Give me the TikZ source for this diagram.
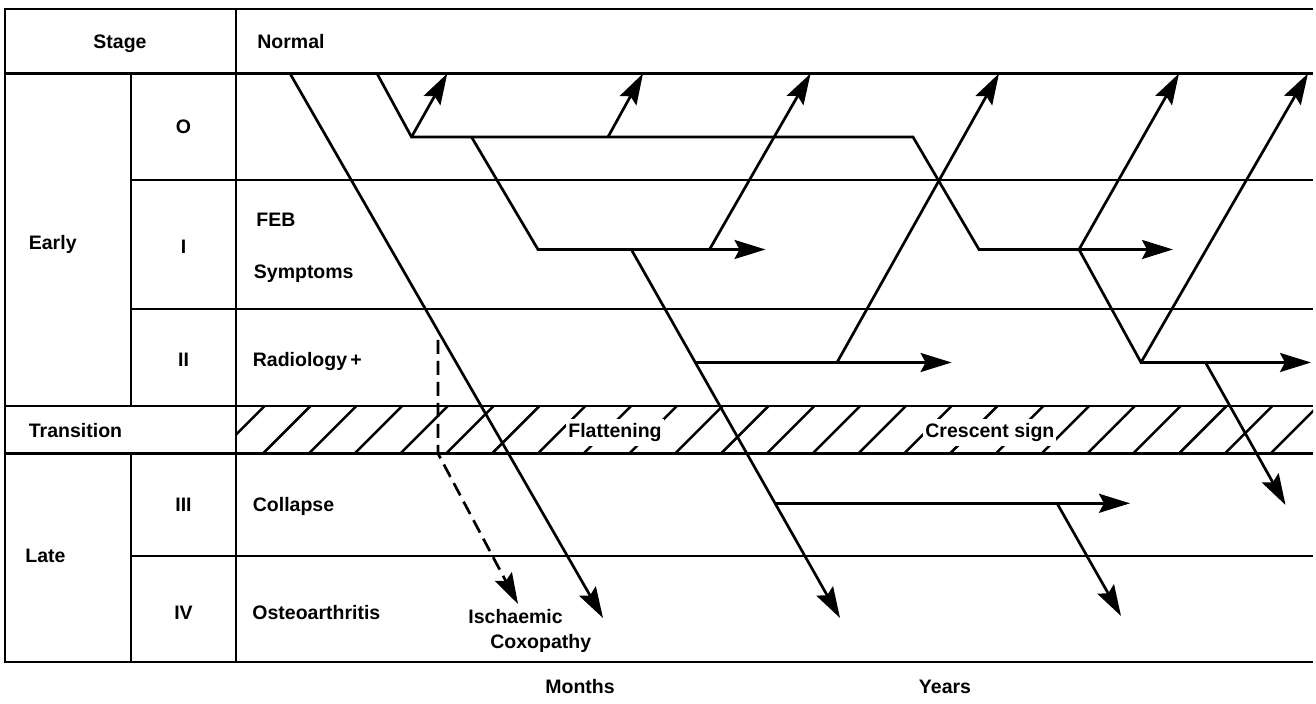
\documentclass[tikz,border=0pt]{standalone}
\usepackage{fontspec}
\setmainfont{Liberation Sans}
\usetikzlibrary{arrows.meta,positioning,calc}
\tikzset{
  rule/.style={line width=1.35pt},
  line/.style={-{Stealth[length=15.5pt,width=9.5pt,inset=2.5pt]}, line width=1.35pt, line join=miter},
  dashline/.style={line, dash pattern=on 7pt off 3.5pt},
  hatchline/.style={line width=1.25pt},
  txt/.style={font=\fontsize{9.75}{11}\selectfont\bfseries, inner sep=0pt},
  cell/.style={txt, anchor=base},
  row/.style={txt, anchor=base west},
  tag/.style={txt, anchor=base west, fill=white, inner xsep=1pt, inner ysep=2pt}
}

\begin{document}
\begin{tikzpicture}[x=0.5pt, y=-0.5pt]
  \useasboundingbox (0,0) rectangle (1316,704);

  % table frame
  \draw[rule] (1313,9) -- (5,9) -- (5,662) -- (1313,662);
  \draw[rule] (5,73.5) -- (1313,73.5);
  \draw[rule] (131,180) -- (1313,180);
  \draw[rule] (131,309) -- (1313,309);
  \draw[rule] (5,406) -- (1313,406);
  \draw[rule] (5,453.5) -- (1313,453.5);
  \draw[rule] (131,556) -- (1313,556);
  \draw[rule] (236,9) -- (236,662);
  \draw[rule] (131,73.5) -- (131,406) (131,453.5) -- (131,662);

  % transition band
  \begin{scope}
    \clip (236,406) rectangle (1313,453.5);
    \foreach \i in {-1,...,22}
      \draw[hatchline] ({263+45.8*\i},453.5) -- ++(47.5,-47.5);
  \end{scope}
  \node[tag] (flat) at (566,437.5) {Flattening};
  \node[tag] (cres) at (923,437.5) {Crescent sign};

  % stage column
  \node[cell] (stage) at (120,49) {Stage};
  \node[row] (early) at (28.5,249.7) {Early};
  \node[row] (trans) at (28.5,437.7) {Transition};
  \node[row] (late) at (25,563) {Late};
  \node[cell] (s0) at (183.5,133.5) {O};
  \node[cell] (s1) at (183.5,253.5) {I};
  \node[cell] (s2) at (183.5,366.5) {II};
  \node[cell] (s3) at (183.5,512) {III};
  \node[cell] (s4) at (183.5,619) {IV};

  % findings column
  \node[row] (normal) at (257,49) {Normal};
  \node[row] (feb) at (256,226.5) {FEB};
  \node[row] (symp) at (253.5,278.3) {Symptoms};
  \node[row] (radio) at (252.5,366.5) {Radiology\,+};
  \node[row] (coll) at (252.5,511.7) {Collapse};
  \node[row] (osteo) at (252,619.5) {Osteoarthritis};
  \node[row] (isch) at (468,624) {Ischaemic};
  \node[row] (coxo) at (490,648.3) {Coxopathy};
  \node[cell] (months) at (580,693) {Months};
  \node[cell] (years) at (945,693) {Years};

  % course lines
  \coordinate (a0) at (290,73.5);
  \coordinate (a1) at (603,618);
  \coordinate (d0) at (438,340);
  \coordinate (d1) at (438,453.5);
  \coordinate (d2) at (518,604);
  \coordinate (b0) at (377,73.5);
  \coordinate (b1) at (411.5,137);
  \coordinate (b2) at (913,137);
  \coordinate (b3) at (979,249.5);
  \coordinate (b4) at (1173,249.5);
  \coordinate (c0) at (471.5,137);
  \coordinate (c1) at (538,249.5);
  \coordinate (c2) at (765.5,249.5);
  \coordinate (e0) at (608,137);
  \coordinate (e1) at (709.5,249.5);
  \coordinate (f0) at (631.3,249.5);
  \coordinate (f1) at (695,362.5);
  \coordinate (f2) at (775,503.3);
  \coordinate (f3) at (840,618);
  \coordinate (g0) at (837,362.5);
  \coordinate (h1) at (951.6,362.5);
  \coordinate (h2) at (1130,503.3);
  \coordinate (k0) at (1057,503.3);
  \coordinate (k1) at (1121,616);
  \coordinate (m0) at (1079,249.5);
  \coordinate (m1) at (1141,362.5);
  \coordinate (m2) at (1311,362.5);
  \coordinate (n0) at (1205.5,362.5);
  \coordinate (n1) at (1285.5,505);
  \coordinate (u1) at (447.3,73.5);
  \coordinate (u2) at (643,73.5);
  \coordinate (u3) at (810.6,73.5);
  \coordinate (u4) at (999,73.5);
  \coordinate (u5) at (1179,73.5);
  \coordinate (u6) at (1308,73.5);

  \draw[line] (a0) -- (a1);
  \draw[dashline] (d0) -- (d1) -- (d2);
  \draw[line] (b0) -- (b1) -- (b2) -- (b3) -- (b4);
  \draw[line] (b1) -- (u1);
  \draw[line] (c0) -- (c1) -- (c2);
  \draw[line] (e0) -- (u2);
  \draw[line] (e1) -- (u3);
  \draw[line] (f0) -- (f3);
  \draw[line] (f1) -- (h1);
  \draw[line] (f2) -- (h2);
  \draw[line] (g0) -- (u4);
  \draw[line] (k0) -- (k1);
  \draw[line] (m0) -- (u5);
  \draw[line] (m0) -- (m1) -- (m2);
  \draw[line] (m1) -- (u6);
  \draw[line] (n0) -- (n1);
\end{tikzpicture}
\end{document}
